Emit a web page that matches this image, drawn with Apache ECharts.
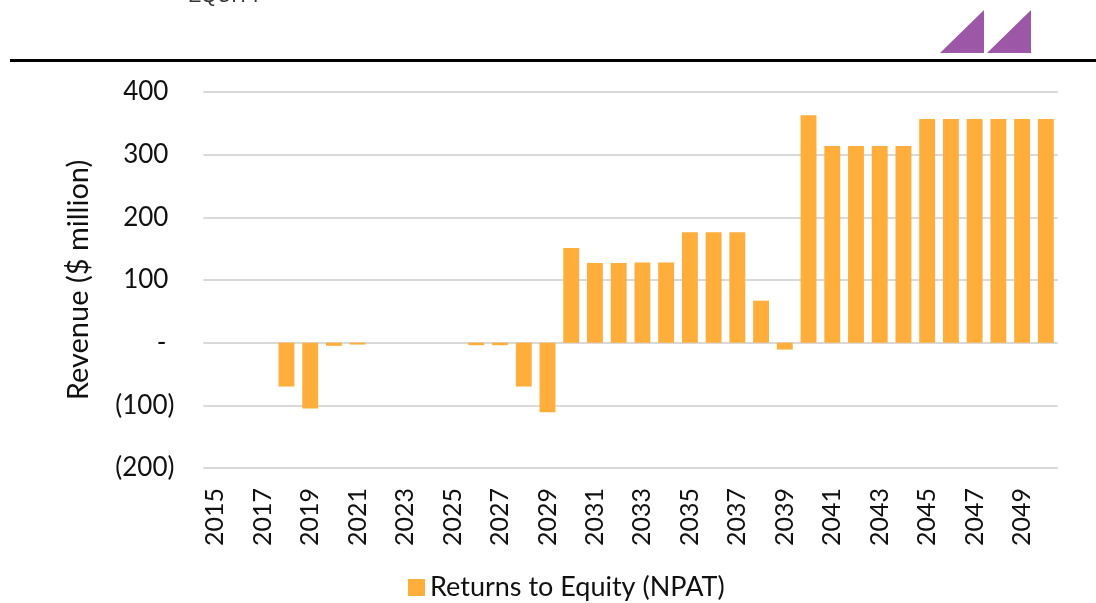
<!DOCTYPE html>
<html><head><meta charset="utf-8">
<script src="https://cdn.jsdelivr.net/npm/echarts@6/dist/echarts.min.js"></script>
<style>html,body{margin:0;padding:0;background:#fff}#c{width:1096px;height:603px}</style>
</head><body><div id="c"></div>
<script>
const years = ['2015','2016','2017','2018','2019','2020','2021','2022','2023','2024','2025','2026','2027','2028','2029','2030','2031','2032','2033','2034','2035','2036','2037','2038','2039','2040','2041','2042','2043','2044','2045','2046','2047','2048','2049','2050'];
const npat = [0,0,0,-70,-105,-5,-3,0,0,0,0,-4,-4,-70,-111,151,127,127,128,128,176,176,176,67,-11,363,314,314,314,314,357,357,357,357,357,357];
const seriesName = 'Returns to Equity (NPAT)';
const yAxisName = 'Revenue ($ million)';
const headerText = 'EQUITY';

const FONT = 'Lato';
const chart = echarts.init(document.getElementById('c'), null, {renderer:'canvas'});
chart.setOption({
  animation:false,
  textStyle:{fontFamily:FONT},
  grid:{left:203.4, right:38.3, top:92, bottom:135},
  legend:{left:403, top:569, itemWidth:17, itemHeight:17, icon:'rect', itemGap:10,
    textStyle:{fontFamily:FONT, fontSize:27, color:'#111'}, data:[seriesName]},
  xAxis:{type:'category', data:years,
    axisLine:{show:false, onZero:false}, axisTick:{show:false},
    axisLabel:{rotate:90, interval:1, margin:20, fontSize:25, color:'#111', fontFamily:FONT}},
  yAxis:{type:'value', min:-200, max:400, interval:100,
    name:yAxisName, nameLocation:'middle', nameGap:110,
    nameTextStyle:{fontSize:29, color:'#111', fontFamily:FONT},
    axisLine:{show:false}, axisTick:{show:false},
    splitLine:{lineStyle:{color:'#D9D9D9', width:2}},
    axisLabel:{margin:29, fontSize:26, color:'#111', fontFamily:FONT,
      formatter:function(v){
        if(v===0) return '{z|-}';
        if(v<0) return '('+Math.abs(v)+')';
        return '{p|'+v+'}';
      },
      rich:{p:{fontSize:26, fontFamily:FONT, color:'#111', padding:[0,6,0,0]},
            z:{fontSize:26, fontFamily:FONT, color:'#111', padding:[0,8,0,0]}}}},
  series:[{name:seriesName, type:'bar', data:npat, barCategoryGap:'33%',
    itemStyle:{color:'#FFAE3B'}}],
  graphic:[
    {type:'text', left:188, top:-14, style:{text:headerText, fontSize:20, fontFamily:'Liberation Sans', fill:'#333'}},
    {type:'rect', shape:{x:10, y:59, width:1086, height:3}, style:{fill:'#000'}},
    {type:'polygon', shape:{points:[[940,53],[984,10],[984,53]]}, style:{fill:'#9C57A6'}},
    {type:'polygon', shape:{points:[[987,53],[1031,10],[1031,53]]}, style:{fill:'#9C57A6'}}
  ]
});
</script></body></html>
